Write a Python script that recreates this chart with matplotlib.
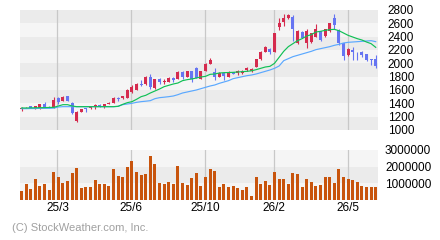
import matplotlib
matplotlib.use("Agg")
import matplotlib.pyplot as plt
import numpy as np

# ---- data (weekly candles) ----
opens = [1315,1340,1355,1325,1335,1390,1350,1335,1485,1435,1510,1405,1140,1275,1325,1325,1340,1375,1340,1395,
         1405,1485,1475,1485,1575,1600,1685,1685,1800,1625,1760,1725,1725,1785,1765,1875,1800,1885,1935,1765,
         1890,1995,1875,1800,1850,1800,1865,1850,1860,1900,1890,1950,2060,2175,2210,2175,2540,2625,2675,2700,
         2300,2465,2300,2325,2400,2480,2410,2480,2680,2500,2300,2130,2200,2130,2165,2140,2060,2060]
highs = [1340,1350,1360,1365,1395,1420,1355,1495,1495,1505,1515,1425,1280,1320,1330,1345,1395,1385,1395,1415,
         1490,1500,1515,1610,1675,1710,1745,1810,1840,1770,1785,1765,1795,1800,1885,1890,1890,1890,1945,1890,
         2000,2075,1935,1870,1865,1880,1870,1900,1900,1950,1925,2060,2185,2260,2225,2455,2675,2740,2740,2725,
         2495,2480,2510,2460,2590,2490,2520,2610,2740,2510,2310,2225,2250,2175,2180,2145,2065,2125]
lows = [1290,1335,1330,1315,1310,1340,1330,1330,1390,1430,1435,1235,1125,1270,1275,1320,1315,1340,1335,1390,
        1400,1435,1470,1480,1560,1595,1655,1680,1610,1620,1695,1695,1720,1725,1760,1765,1795,1715,1780,1760,
        1885,1985,1750,1790,1750,1790,1835,1830,1840,1890,1875,1945,2050,2170,2135,2170,2500,2560,2660,2340,
        2285,2375,2225,2300,2390,2340,2400,2470,2520,2280,2050,2110,2050,2050,2100,2040,1975,1935]
closes = [1335,1345,1335,1360,1390,1345,1335,1455,1420,1500,1440,1260,1275,1315,1310,1340,1375,1345,1390,1410,
          1485,1465,1510,1595,1650,1685,1670,1800,1650,1760,1720,1735,1785,1750,1875,1800,1885,1765,1785,1885,
          1985,2050,1800,1860,1805,1875,1845,1880,1885,1925,1910,2060,2175,2245,2175,2450,2610,2675,2730,2510,
          2490,2385,2490,2450,2510,2350,2510,2600,2580,2310,2110,2215,2175,2120,2125,2050,2045,1960]
ma_short = [1330,1330,1332,1333,1335,1336,1338,1340,1360,1380,1380,1360,1350,1350,1350,1350,1350,1350,1350,1350,
            1350,1355,1385,1410,1425,1460,1500,1520,1555,1585,1615,1650,1670,1690,1705,1740,1755,1765,1780,1795,
            1805,1835,1840,1855,1860,1862,1865,1870,1875,1880,1888,1905,1925,1945,1955,2000,2090,2180,2250,2295,
            2340,2370,2410,2430,2470,2480,2495,2505,2510,2490,2455,2420,2395,2370,2350,2320,2295,2240]
ma_long = [1320,1320,1322,1322,1325,1325,1325,1328,1345,1350,1350,1350,1350,1350,1350,1350,1350,1350,1350,1350,
           1350,1355,1380,1390,1400,1415,1425,1432,1440,1470,1485,1492,1500,1510,1530,1555,1570,1585,1600,1620,
           1640,1660,1675,1700,1720,1740,1770,1785,1800,1815,1825,1840,1860,1880,1900,1925,1960,2040,2070,2100,
           2120,2140,2160,2180,2205,2220,2235,2250,2270,2285,2305,2315,2320,2325,2330,2335,2340,2325]
volumes_m = [0.54,0.96,0.66,1.26,0.84,0.96,0.6,1.68,1.38,1.02,1.14,1.62,1.92,0.72,0.78,0.78,1.2,0.96,0.96,0.84,
             1.86,1.44,1.38,1.98,2.34,1.68,1.5,1.54,2.66,2.16,1.02,0.96,1.08,0.96,2.04,1.02,0.9,1.32,1.62,0.84,
             1.38,1.86,1.74,0.78,0.96,0.78,0.84,0.72,0.6,0.78,0.24,1.38,0.96,1.14,0.9,1.68,1.26,1.26,0.96,1.62,
             1.56,0.78,1.26,1.08,0.84,0.9,1.38,1.38,1.02,1.86,1.38,1.26,1.2,1.08,0.84,0.78,0.78,0.78]
date_ticks = [7.8, 23.85, 39.9, 54.95, 71.0]
date_labels = ["25/3", "25/6", "25/10", "26/2", "26/5"]
price_ticks = [1000,1200,1400,1600,1800,2000,2200,2400,2600,2800]
vol_ticks = [1000000, 2000000, 3000000]

UP = "#d52b4e"
DOWN = "#6675f2"
VOLC = "#c8540c"
DARK = "#ebebeb"
LIGHT = "#f5f5f5"
GRID = "#c8c8c8"

plt.rcParams['font.family'] = ['Liberation Sans', 'DejaVu Sans']

fig = plt.figure(figsize=(4.4, 2.4), dpi=100)
ax = fig.add_axes([20/440, 1-130/240, 358/440, 120/240])
axv = fig.add_axes([20/440, 1-200/240, 358/440, 50/240])

n = len(opens)
x = np.arange(n)
o = np.array(opens); c = np.array(closes); h = np.array(highs); l = np.array(lows)

# price panel background bands
for k in range(len(price_ticks)-1):
    lo, hi = price_ticks[k], price_ticks[k+1]
    ax.axhspan(lo, hi, color=DARK if k % 2 == 0 else LIGHT, lw=0, zorder=0)
for t in date_ticks:
    ax.axvline(t, color=GRID, lw=0.9, zorder=1)
    axv.axvline(t, color=GRID, lw=0.9, zorder=1)

colors = [UP if cc >= oo else DOWN for oo, cc in zip(o, c)]
ax.vlines(x, l, h, colors=colors, lw=0.8, zorder=3)
body_lo = np.minimum(o, c)
body_h = np.maximum(np.abs(c - o), 12)
ax.bar(x, body_h, bottom=body_lo, width=0.66, color=colors, lw=0, zorder=4)
ax.plot(x, ma_long, color="#5aa8ff", lw=0.85, zorder=5)
ax.plot(x, ma_short, color="#10c055", lw=0.85, zorder=5)

ax.set_xlim(-0.33, 77.5)
ax.set_ylim(1000, 2800)
ax.set_yticks(price_ticks)
ax.set_yticklabels([str(v) for v in price_ticks])
ax.yaxis.tick_right()
ax.tick_params(axis='y', length=0, pad=7, labelsize=8.5, colors='black')
ax.set_xticks([])
for s in ax.spines.values():
    s.set_visible(False)

# volume panel
vb = [(0, 1e6, LIGHT), (1e6, 2e6, DARK), (2e6, 3e6, LIGHT)]
for lo, hi, col in vb:
    axv.axhspan(lo, hi, color=col, lw=0, zorder=0)
vols = np.array(volumes_m) * 1e6
axv.bar(x, vols, width=0.66, color=VOLC, lw=0, zorder=3)
axv.set_xlim(-0.33, 77.5)
axv.set_ylim(0, 3.0e6)
axv.set_yticks(vol_ticks)
axv.set_yticklabels([str(v) for v in vol_ticks])
axv.yaxis.tick_right()
axv.tick_params(axis='y', length=0, pad=5, labelsize=8.5, colors='black')
axv.set_xticks(date_ticks)
axv.set_xticklabels(date_labels)
axv.tick_params(axis='x', length=0, pad=1.5, labelsize=8.5, colors='black')
for s in axv.spines.values():
    s.set_visible(False)

fig.text(12/440, 1-228/240, "(C) StockWeather.com, Inc.", color="#a0a0a0",
         fontsize=8, va='center', ha='left')

fig.savefig("out.png", dpi=100, facecolor="white")
